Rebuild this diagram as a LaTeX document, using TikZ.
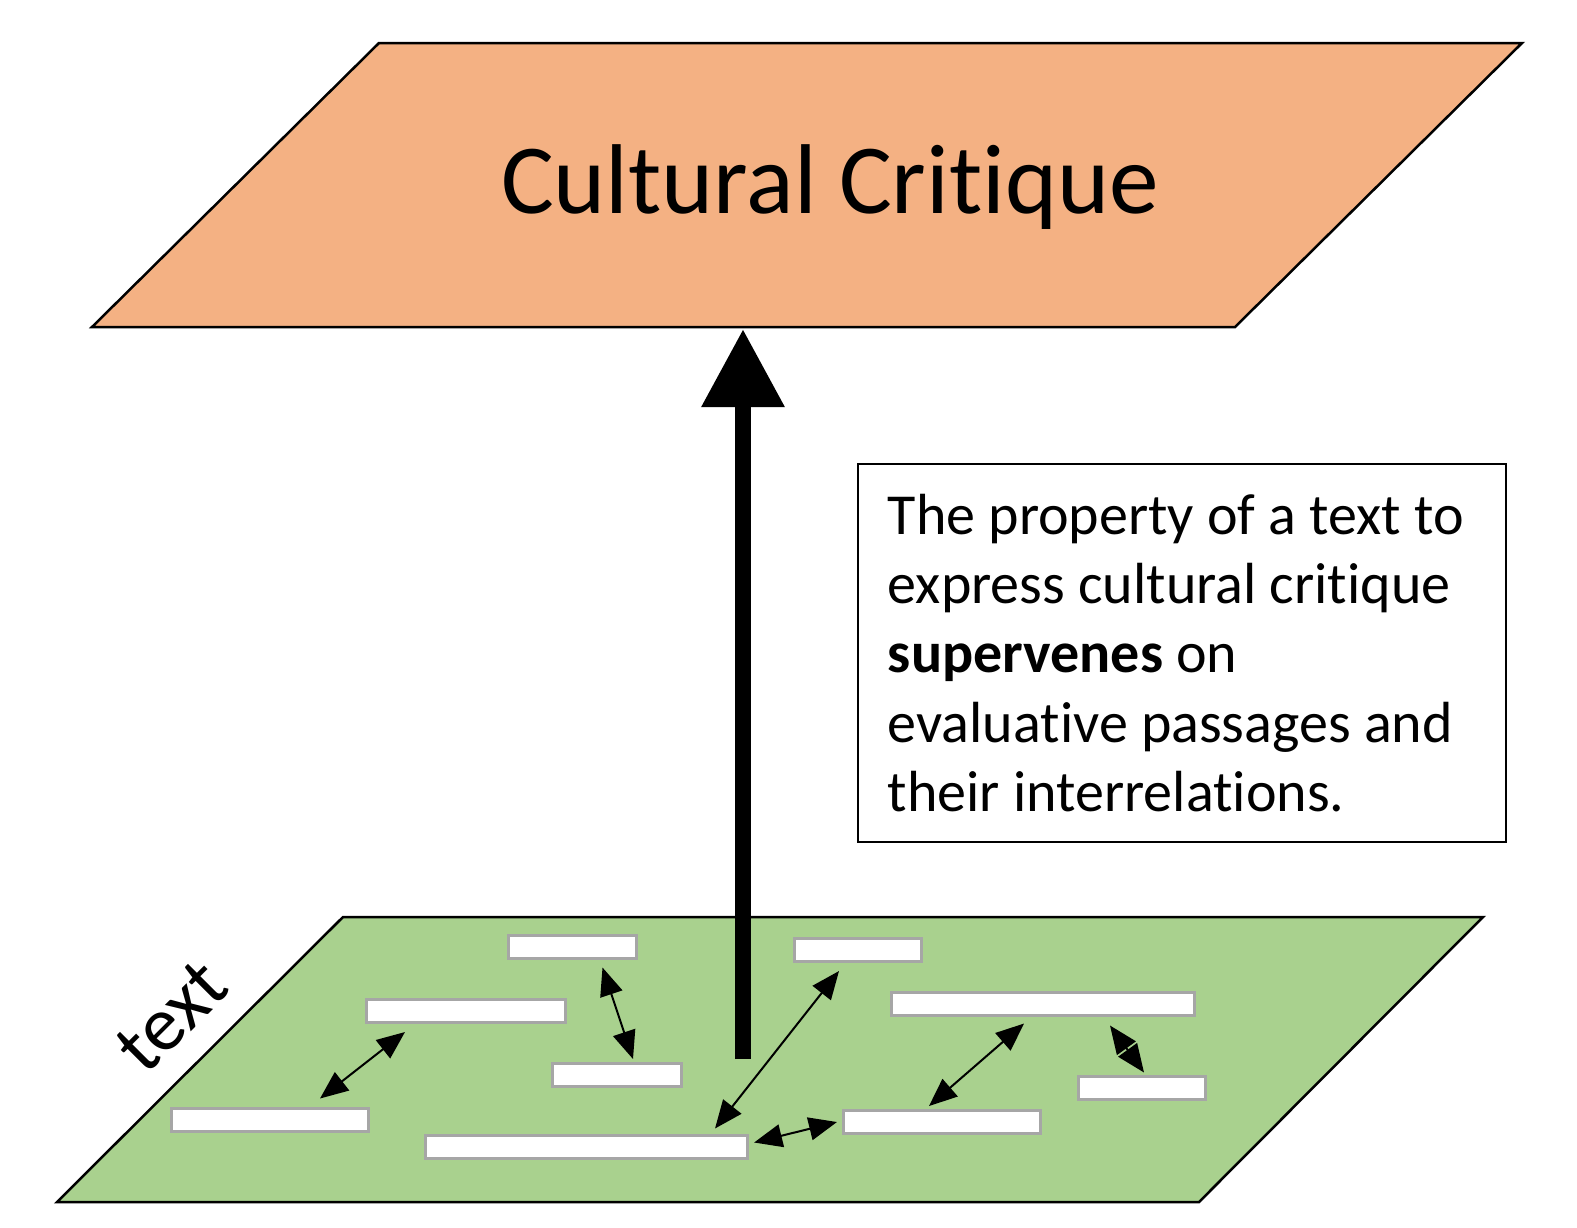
\documentclass[tikz,border=0pt]{standalone}
\usepackage{fontspec}
\setmainfont{Carlito}[Ligatures=NoCommon]
\usepackage{tikz}
\usetikzlibrary{arrows.meta,positioning,calc}
\definecolor{critiqueOrange}{HTML}{F4B183}
\definecolor{textGreen}{HTML}{A9D18E}
\definecolor{barGray}{HTML}{A6A6A6}

\begin{document}
\begin{tikzpicture}[x=0.01cm, y=-0.01cm,
    plane/.style={draw=black, line width=0.25mm, line join=miter},
    passage/.style={draw=barGray, line width=0.3mm, fill=white, inner sep=0pt, minimum height=2.3mm},
    relation/.style={line width=0.2mm, {Triangle[length=2.8mm, width=2.3mm]}-{Triangle[length=2.8mm, width=2.3mm]}},
    infobox/.style={draw=black, line width=0.2mm, minimum width=64.8mm, minimum height=37.8mm,
      text width=58.8mm, align=left, inner sep=0pt, font=\fontsize{16.5}{19.75}\selectfont,
      execute at begin node={\spaceskip=0pt}}]
    \useasboundingbox (0,0) rectangle (1577,1227);

    % Upper level: cultural critique
    \draw[plane, fill=critiqueOrange] (379,43) -- (1522,43) -- (1235,327) -- (92,327) -- cycle;
    \node[anchor=base, font=\fontsize{28.2}{33}\selectfont] (title) at (830,213) {Cultural Critique};

    % Lower level: the text
    \draw[plane, fill=textGreen] (343,917) -- (1483,917) -- (1199,1202) -- (57,1202) -- cycle;
    \node[rotate=45, font=\fontsize{22}{26}\selectfont] (textlabel) at (172,1016) {text};

    % Evaluative passages
    \node[passage, minimum width=12.8mm] (b1) at (572.5,946.5) {};
    \node[passage, minimum width=12.7mm] (b2) at (858,950) {};
    \node[passage, minimum width=19.9mm] (b3) at (466,1011) {};
    \node[passage, minimum width=30.3mm] (b4) at (1043,1003.5) {};
    \node[passage, minimum width=12.8mm] (b5) at (617,1075) {};
    \node[passage, minimum width=12.7mm] (b6) at (1142,1087.5) {};
    \node[passage, minimum width=19.6mm] (b7) at (270,1119.5) {};
    \node[passage, minimum width=19.7mm] (b8) at (942,1122) {};
    \node[passage, minimum width=32.2mm] (b9) at (586.5,1146.5) {};

    % Interrelations
    \draw[relation] ($(b7.north)+(50,-8)$) -- ($(b3.south)+(-61,8)$);
    \draw[relation] ($(b1.south)+(30,8)$) -- ($(b5.north)+(16,-3)$);
    \draw[relation] ($(b9.north)+(128.5,-5)$) -- ($(b2.south)+(-19,8)$);
    \draw[relation] ($(b9.east)+(5,-4)$) -- ($(b8.west)+(-5,0)$);
    \draw[relation] ($(b8.north)+(-13,-3)$) -- ($(b4.south)+(-19,7)$);
    \draw[relation] ($(b4.south)+(67,9)$) -- ($(b6.north)+(2,-2)$);

    % Supervenience arrow
    \coordinate (foot) at (743,1059);
    \coordinate (apex) at (743,329);
    \draw[line width=1.6mm, -{Triangle[length=7.8mm, width=7.9mm]}] (foot) -- (apex);

    % Explanation
    \node[infobox] (info) at (1182,653) {The property of a text to\\
      express cultural critique\\
      \textbf{supervenes} on\\
      evaluative passages and\\
      their interrelations.};
\end{tikzpicture}
\end{document}
